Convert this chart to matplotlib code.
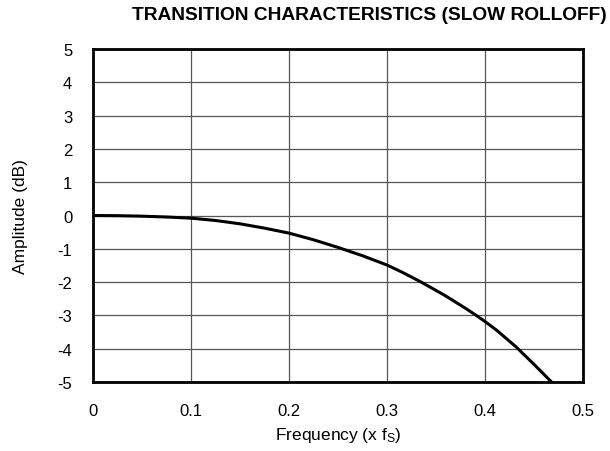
import matplotlib.pyplot as plt
import numpy as np

plt.rcParams['font.family'] = ['Liberation Sans', 'DejaVu Sans']
plt.rcParams['axes.unicode_minus'] = False
plt.rcParams['mathtext.fontset'] = 'custom'
plt.rcParams['mathtext.rm'] = 'Liberation Sans'
plt.rcParams['mathtext.it'] = 'Liberation Sans'

# curve
freq = [0, 0.025, 0.05, 0.075, 0.1, 0.125, 0.15, 0.175, 0.2, 0.225, 0.25, 0.275,
        0.3, 0.315, 0.3347, 0.3588, 0.38, 0.3908, 0.4, 0.4118, 0.4316, 0.4497, 0.4676]
amp = [0, -0.005, -0.02, -0.045, -0.08, -0.15, -0.25, -0.38, -0.53, -0.73, -0.96, -1.21,
       -1.49, -1.7, -2.0, -2.4, -2.79, -3.0, -3.19, -3.45, -3.95, -4.47, -5.0]

xticks = [0, 0.1, 0.2, 0.3, 0.4, 0.5]
xticklabels = ['0', '0.1', '0.2', '0.3', '0.4', '0.5']
yticks = list(range(-5, 6))

fig = plt.figure(figsize=(6.1, 4.52), dpi=100)
ax = fig.add_axes([0.1525, 0.153, 0.8035, 0.736])

ax.plot(freq, amp, color='black', linewidth=2.2, solid_joinstyle='round')

ax.set_xlim(0, 0.5)
ax.set_ylim(-5, 5)
ax.set_xticks(xticks)
ax.set_xticklabels(xticklabels)
ax.set_yticks(yticks)
ax.tick_params(length=0, labelsize=12)
ax.tick_params(axis='x', pad=15)
ax.tick_params(axis='y', pad=15)
ax.grid(True, color='#555555', linewidth=0.9)
for s in ax.spines.values():
    s.set_linewidth(2)
    s.set_color('black')

ax.set_xlabel('Frequency (x f$_\\mathregular{S}$)', fontsize=12.5, labelpad=5)
ax.set_ylabel('Amplitude (dB)', fontsize=12.5, labelpad=21)
fig.text(0.605, 0.965, 'TRANSITION CHARACTERISTICS (SLOW ROLLOFF)', fontsize=13.8,
         fontweight='bold', ha='center', va='center')

plt.savefig('out.png', dpi=100)
